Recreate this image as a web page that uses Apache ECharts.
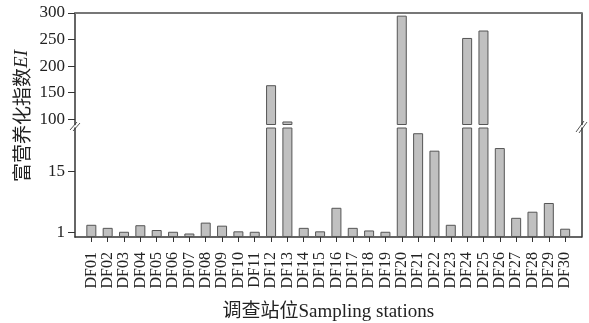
<!DOCTYPE html>
<html><head><meta charset="utf-8">
<script src="https://cdn.jsdelivr.net/npm/echarts@6/dist/echarts.min.js"></script>
<style>html,body{margin:0;padding:0;background:#fff}#c{width:589px;height:323px}</style>
</head><body><div id="c"></div>
<script>
const categories = ['DF01','DF02','DF03','DF04','DF05','DF06','DF07','DF08','DF09','DF10',
  'DF11','DF12','DF13','DF14','DF15','DF16','DF17','DF18','DF19','DF20',
  'DF21','DF22','DF23','DF24','DF25','DF26','DF27','DF28','DF29','DF30'];
const eiValues = [2.8,2.1,1.2,2.7,1.6,1.2,0.8,3.3,2.6,1.3,
  1.2,164,95.7,2.1,1.3,6.7,2.1,1.5,1.2,295,
  23.8,19.8,2.8,253,267,20.4,4.4,5.8,7.8,1.9];
const upperTicks = [100,150,200,250,300];
const lowerTicks = [1,15];
const upperRange = [90,300];
const lowerRange = [0,25];

const padded = [''].concat(categories, ['']);
const upperData = ['-'].concat(eiValues.map(v => v > upperRange[0] ? v : '-'), ['-']);
const lowerData = ['-'].concat(eiValues, ['-']);

const FONT = '"Liberation Serif", "Times New Roman", serif';
const AX = '#333';
const chart = echarts.init(document.getElementById('c'), null, {renderer:'canvas'});

const yLabel = {fontFamily: FONT, fontSize: 17, color: '#222', margin: 10};
chart.setOption({
  animation: false,
  grid: [
    {left: 75, right: 7.5, top: 13, height: 111.5},
    {left: 75, right: 7.5, top: 128, height: 112}
  ],
  xAxis: [
    {gridIndex: 0, type: 'category', data: padded, boundaryGap: false, position: 'bottom',
     axisLine: {show: false}, axisTick: {show: false}, axisLabel: {show: false}},
    {gridIndex: 1, type: 'category', data: padded, boundaryGap: false,
     axisLine: {lineStyle: {color: AX, width: 1.5}},
     axisTick: {length: 5, lineStyle: {color: AX}, interval: (i) => i > 0 && i < padded.length - 1},
     axisLabel: {interval: 0, rotate: 90, fontFamily: FONT, fontSize: 16, color: '#222', margin: 15},
     name: '调查站位Sampling stations', nameLocation: 'middle', nameGap: 66,
     nameTextStyle: {fontFamily: '"Liberation Serif", "Noto Sans CJK SC", serif', fontSize: 19, color: '#222'}},
    {gridIndex: 0, type: 'category', data: padded, boundaryGap: false, position: 'top',
     axisLine: {lineStyle: {color: '#777', width: 2}}, axisTick: {show: false}, axisLabel: {show: false}}
  ],
  yAxis: [
    {gridIndex: 0, type: 'value', min: upperRange[0], max: upperRange[1],
     axisLine: {show: true, lineStyle: {color: AX, width: 1.5}},
     axisTick: {show: true, length: 7, lineStyle: {color: AX}, customValues: upperTicks},
     axisLabel: Object.assign({customValues: upperTicks}, yLabel),
     splitLine: {show: false}},
    {gridIndex: 1, type: 'value', min: lowerRange[0], max: lowerRange[1],
     axisLine: {show: true, lineStyle: {color: AX, width: 1.5}},
     axisTick: {show: true, length: 7, lineStyle: {color: AX}, customValues: lowerTicks},
     axisLabel: Object.assign({customValues: lowerTicks}, yLabel),
     splitLine: {show: false}},
    {gridIndex: 0, type: 'value', position: 'right', min: upperRange[0], max: upperRange[1],
     axisLine: {show: true, lineStyle: {color: AX, width: 1.5}}, axisTick: {show: false},
     axisLabel: {show: false}, splitLine: {show: false}},
    {gridIndex: 1, type: 'value', position: 'right', min: lowerRange[0], max: lowerRange[1],
     axisLine: {show: true, lineStyle: {color: AX, width: 1.5}}, axisTick: {show: false},
     axisLabel: {show: false}, splitLine: {show: false}}
  ],
  series: [
    {type: 'bar', xAxisIndex: 0, yAxisIndex: 0, data: upperData, barWidth: 10,
     itemStyle: {color: '#c0c0c0', borderColor: '#555', borderWidth: 1}},
    {type: 'bar', xAxisIndex: 1, yAxisIndex: 1, data: lowerData, barWidth: 10,
     itemStyle: {color: '#c0c0c0', borderColor: '#555', borderWidth: 1}}
  ],
  graphic: [
    {type: 'text', x: 22, y: 116, rotation: Math.PI / 2,
     style: {text: '富营养化指数{i|EI}', align: 'center', verticalAlign: 'middle',
       font: '19px "Noto Sans CJK SC", serif', fill: '#222',
       rich: {i: {fontStyle: 'italic', fontFamily: FONT, fontSize: 19, fill: '#222'}}}},
    {type: 'line', shape: {x1: 70, y1: 130, x2: 77, y2: 122}, style: {stroke: '#555', lineWidth: 1}},
    {type: 'line', shape: {x1: 73, y1: 131, x2: 80, y2: 123}, style: {stroke: '#555', lineWidth: 1}},
    {type: 'line', shape: {x1: 576, y1: 132, x2: 584, y2: 121}, style: {stroke: '#555', lineWidth: 1}},
    {type: 'line', shape: {x1: 579, y1: 133, x2: 587, y2: 122}, style: {stroke: '#555', lineWidth: 1}}
  ]
});
</script></body></html>
